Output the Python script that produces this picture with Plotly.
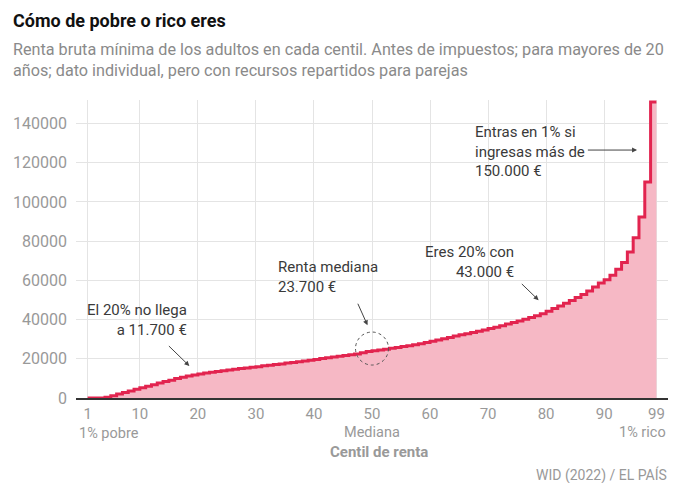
import plotly.graph_objects as go

# ---- data ----
centiles = list(range(1, 100))
renta = [
    0, 0, 0, 0, 400, 1200, 2000, 2800, 3600, 4400,            # 1-10
    5200, 6000, 6800, 7600, 8400, 9100, 9900, 10600, 11200, 11700,  # 11-20
    12200, 12700, 13100, 13500, 13900, 14300, 14700, 15000, 15300, 15700,  # 21-30
    16000, 16400, 16700, 17100, 17400, 17800, 18100, 18500, 18900, 19300,  # 31-40
    19700, 20100, 20500, 20900, 21300, 21700, 22100, 22500, 23100, 23700,  # 41-50
    24100, 24500, 24900, 25400, 25800, 26300, 26700, 27200, 27700, 28300,  # 51-60
    28900, 29600, 30200, 30900, 31600, 32200, 32800, 33400, 34000, 34700,  # 61-70
    35400, 36100, 36900, 37700, 38500, 39300, 40200, 41100, 42000, 43000,  # 71-80
    44300, 45600, 46900, 48300, 49700, 51200, 52800, 54600, 56600, 58700,  # 81-90
    60300, 62600, 65700, 69100, 74500, 81800, 92300, 110200, 151000,      # 91-99
]
x_tickvals = [1, 10, 20, 30, 40, 50, 60, 70, 80, 90, 99]
y_tickvals = [0, 20000, 40000, 60000, 80000, 100000, 120000, 140000]

TITLE = "Cómo de pobre o rico eres"
SUBTITLE = ("Renta bruta mínima de los adultos en cada centil. Antes de impuestos; para mayores de 20<br>"
            "años; dato individual, pero con recursos repartidos para parejas")

# The page body has an 8px margin; size the figure to fit inside the window
OFF = 8
W, H = 680 - 2 * OFF, 491 - 2 * OFF
PLOT_L, PLOT_R, PLOT_T, PLOT_B = 76, 667.6, 100, 397.7   # window pixels
L = PLOT_L - OFF
T = PLOT_T - OFF
R = W - (PLOT_R - OFF)
B = H - (PLOT_B - OFF)
PW, PH = PLOT_R - PLOT_L, PLOT_B - PLOT_T

def pxx(xp):
    return (xp - PLOT_L) / PW

def pxy(yp):
    return (PLOT_B - yp) / PH

GRAY = "#999999"
DARK = "#3a3a3a"
FONT = "Roboto"

fig = go.Figure()
fig.add_trace(go.Scatter(
    x=centiles, y=renta, mode="lines", line_shape="vh",
    line=dict(color="#e2244f", width=3),
    fill="tozeroy", fillcolor="#f6b8c5",
    hoverinfo="skip", showlegend=False,
))

annotations = []
# title & subtitle
annotations.append(dict(text="<b>" + TITLE + "</b>", xref="paper", yref="paper",
                        x=pxx(11), y=pxy(21), xanchor="left", yanchor="middle",
                        showarrow=False, font=dict(family=FONT, size=18, color="#111")))
annotations.append(dict(text=SUBTITLE, xref="paper", yref="paper",
                        x=pxx(11), y=pxy(60), xanchor="left", yanchor="middle", align="left",
                        showarrow=False, font=dict(family=FONT, size=16.2, color="#8a8a8a")))
# axis sublabels
annotations.append(dict(text="1% pobre", xref="paper", yref="paper", x=pxx(77), y=pxy(433),
                        xanchor="left", yanchor="middle", showarrow=False,
                        font=dict(family=FONT, size=14.5, color=GRAY)))
annotations.append(dict(text="Mediana", xref="x", yref="paper", x=50, y=pxy(432),
                        xanchor="center", yanchor="middle", showarrow=False,
                        font=dict(family=FONT, size=14.5, color=GRAY)))
annotations.append(dict(text="1% rico", xref="paper", yref="paper", x=pxx(668), y=pxy(432),
                        xanchor="right", yanchor="middle", showarrow=False,
                        font=dict(family=FONT, size=14.5, color=GRAY)))
annotations.append(dict(text="<b>Centil de renta</b>", xref="paper", yref="paper", x=pxx(379), y=pxy(452),
                        xanchor="center", yanchor="middle", showarrow=False,
                        font=dict(family=FONT, size=15, color=GRAY)))
annotations.append(dict(text="WID (2022) / EL PAÍS", xref="paper", yref="paper", x=pxx(669), y=pxy(475),
                        xanchor="right", yanchor="middle", showarrow=False,
                        font=dict(family=FONT, size=14, color=GRAY)))

# callout texts
TFONT = dict(family=FONT, size=15, color=DARK)
annotations.append(dict(text="El 20% no llega<br>a 11.700 €", xref="paper", yref="paper",
                        x=pxx(189), y=pxy(320), xanchor="right", yanchor="middle", align="right",
                        showarrow=False, font=TFONT))
annotations.append(dict(text="Renta mediana<br>23.700 €", xref="paper", yref="paper",
                        x=pxx(276), y=pxy(277), xanchor="left", yanchor="middle", align="left",
                        showarrow=False, font=TFONT))
annotations.append(dict(text="Eres 20% con<br>43.000 €", xref="paper", yref="paper",
                        x=pxx(516), y=pxy(261.5), xanchor="right", yanchor="middle", align="right",
                        showarrow=False, font=TFONT))
annotations.append(dict(text="Entras en 1% si<br>ingresas más de<br>150.000 €", xref="paper", yref="paper",
                        x=pxx(473), y=pxy(151), xanchor="left", yanchor="middle", align="left",
                        showarrow=False, font=TFONT))

# arrows (head at (x, y), tail offset by ax, ay pixels)
def arrow(xp_head, yp_head, xp_tail, yp_tail):
    return dict(text="", xref="paper", yref="paper", x=pxx(xp_head), y=pxy(yp_head),
                ax=xp_tail - xp_head, ay=yp_tail - yp_head, showarrow=True,
                arrowhead=2, arrowsize=1, arrowwidth=1, arrowcolor="#444")

annotations.append(arrow(189.3, 365.7, 167.3, 344.3))
annotations.append(arrow(367.3, 325, 357, 302))
annotations.append(arrow(538.3, 300, 520, 282.3))
annotations.append(arrow(636.7, 150, 586, 150))

shapes = [dict(type="circle", xref="x", yref="y",
               xsizemode="pixel", ysizemode="pixel",
               xanchor=50, yanchor=renta[centiles.index(50)],
               x0=-16.5, x1=16.5, y0=-13.5, y1=19.5,
               line=dict(color="#555", width=1, dash="dot"))]

fig.update_layout(
    width=W, height=H,
    margin=dict(l=L, r=R, t=T, b=B, pad=0),
    paper_bgcolor="white", plot_bgcolor="white",
    annotations=annotations, shapes=shapes,
    font=dict(family=FONT),
    xaxis=dict(range=[-1, 101], tickvals=x_tickvals, showgrid=True, gridcolor="#e4e4e4",
               gridwidth=1, zeroline=False, showline=True, linecolor="#333", linewidth=1.5,
               tickfont=dict(family=FONT, size=15, color=GRAY), ticks="", ticklabelstandoff=1,
               fixedrange=True),
    yaxis=dict(range=[0, 152000], tickvals=y_tickvals, tickformat="d", showgrid=True,
               gridcolor="#e4e4e4", gridwidth=1, zeroline=False,
               tickfont=dict(family=FONT, size=16, color=GRAY), ticks="", ticklabelstandoff=8,
               fixedrange=True),
)

fig.write_html("out.html")
